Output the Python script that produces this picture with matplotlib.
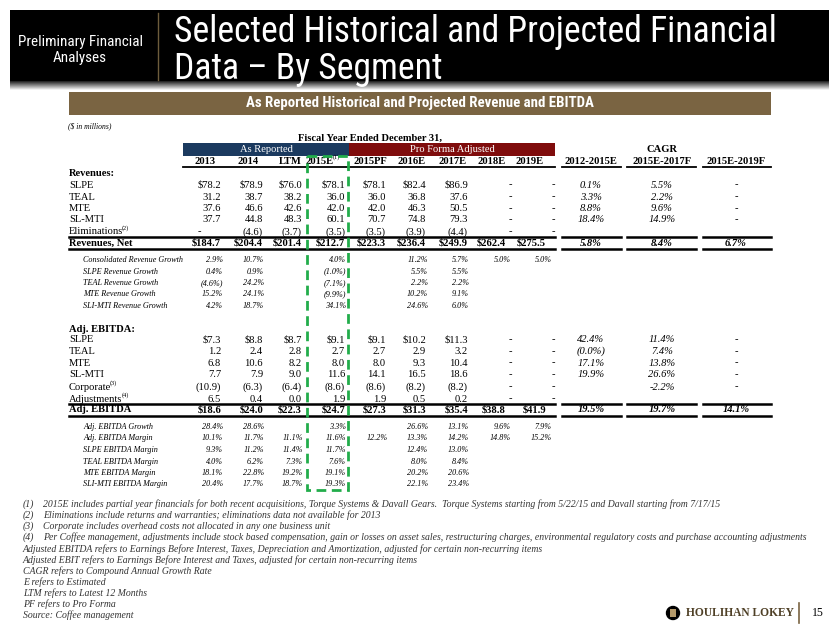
import math
import matplotlib
matplotlib.use('Agg')
import matplotlib.pyplot as plt
from matplotlib import font_manager
from matplotlib.patches import Rectangle, Circle

plt.rcParams['font.family'] = ['Liberation Serif', 'DejaVu Serif']

# pick a narrow sans for the banner if one is installed
_names = {f.name for f in font_manager.fontManager.ttflist}
SANS = [n for n in ['Roboto Condensed', 'Liberation Sans Narrow', 'Open Sans Condensed', 'Roboto']
        if n in _names] + ['DejaVu Sans']

# ---- data ----
periods = ['2013', '2014', 'LTM', '2015E', '2015PF', '2016E', '2017E', '2018E', '2019E']
cagr_periods = ['2012-2015E', '2015E-2017F', '2015E-2019F']

rev_labels = [('SLPE', ''), ('TEAL', ''), ('MTE', ''), ('SL-MTI', ''), ('Eliminations', '(2)')]
rev_slpe = [78.2, 78.9, 76.0, 78.1, 78.1, 82.4, 86.9, '-', '-']
rev_teal = [31.2, 38.7, 38.2, 36.0, 36.0, 36.8, 37.6, '-', '-']
rev_mte = [37.6, 46.6, 42.6, 42.0, 42.0, 46.3, 50.5, '-', '-']
rev_slmti = [37.7, 44.8, 48.3, 60.1, 70.7, 74.8, 79.3, '-', '-']
rev_elim = ['-', -4.6, -3.7, -3.5, -3.5, -3.9, -4.4, '-', '-']
rev_net = [184.7, 204.4, 201.4, 212.7, 223.3, 236.4, 249.9, 262.4, 275.5]

rev_cagr_slpe = [0.1, 5.5, '-']
rev_cagr_teal = [3.3, 2.2, '-']
rev_cagr_mte = [8.8, 9.6, '-']
rev_cagr_slmti = [18.4, 14.9, '-']
rev_cagr_elim = [None, None, None]
rev_cagr_net = [5.8, 8.4, 6.7]

growth_labels = ['Consolidated Revenue Growth', 'SLPE Revenue Growth', 'TEAL Revenue Growth',
                 'MTE Revenue Growth', 'SLI-MTI Revenue Growth']
growth_cons = [2.9, 10.7, None, 4.0, None, 11.2, 5.7, 5.0, 5.0]
growth_slpe = [0.4, 0.9, None, -1.0, None, 5.5, 5.5, None, None]
growth_teal = [-4.6, 24.2, None, -7.1, None, 2.2, 2.2, None, None]
growth_mte = [15.2, 24.1, None, -9.9, None, 10.2, 9.1, None, None]
growth_slmti = [4.2, 18.7, None, 34.1, None, 24.6, 6.0, None, None]

ebitda_labels = [('SLPE', ''), ('TEAL', ''), ('MTE', ''), ('SL-MTI', ''),
                 ('Corporate', '(3)'), ('Adjustments', '(4)')]
ebitda_slpe = [7.3, 8.8, 8.7, 9.1, 9.1, 10.2, 11.3, '-', '-']
ebitda_teal = [1.2, 2.4, 2.8, 2.7, 2.7, 2.9, 3.2, '-', '-']
ebitda_mte = [6.8, 10.6, 8.2, 8.0, 8.0, 9.3, 10.4, '-', '-']
ebitda_slmti = [7.7, 7.9, 9.0, 11.6, 14.1, 16.5, 18.6, '-', '-']
ebitda_corp = [-10.9, -6.3, -6.4, -8.6, -8.6, -8.2, -8.2, '-', '-']
ebitda_adj = [6.5, 0.4, 0.0, 1.9, 1.9, 0.5, 0.2, '-', '-']
ebitda_total = [18.6, 24.0, 22.3, 24.7, 27.3, 31.3, 35.4, 38.8, 41.9]

ebitda_cagr_slpe = [42.4, 11.4, '-']
ebitda_cagr_teal = [-0.0, 7.4, '-']
ebitda_cagr_mte = [17.1, 13.8, '-']
ebitda_cagr_slmti = [19.9, 26.6, '-']
ebitda_cagr_corp = [None, -2.2, '-']
ebitda_cagr_adj = [None, None, None]
ebitda_cagr_total = [19.5, 19.7, 14.1]

margin_labels = ['Adj. EBITDA Growth', 'Adj. EBITDA Margin', 'SLPE EBITDA Margin',
                 'TEAL EBITDA Margin', 'MTE EBITDA Margin', 'SLI-MTI EBITDA Margin']
ebitda_growth = [28.4, 28.6, None, 3.3, None, 26.6, 13.1, 9.6, 7.9]
ebitda_margin = [10.1, 11.7, 11.1, 11.6, 12.2, 13.3, 14.2, 14.8, 15.2]
margin_slpe = [9.3, 11.2, 11.4, 11.7, None, 12.4, 13.0, None, None]
margin_teal = [4.0, 6.2, 7.3, 7.6, None, 8.0, 8.4, None, None]
margin_mte = [18.1, 22.8, 19.2, 19.1, None, 20.2, 20.6, None, None]
margin_slmti = [20.4, 17.7, 18.7, 19.3, None, 22.1, 23.4, None, None]

footnotes = [
    ('(1)', '2015E includes partial year financials for both recent acquisitions, Torque Systems & Davall Gears.  '
            'Torque Systems starting from 5/22/15 and Davall starting from 7/17/15'),
    ('(2)', 'Eliminations include returns and warranties; eliminations data not available for 2013'),
    ('(3)', 'Corporate includes overhead costs not allocated in any one business unit'),
    ('(4)', 'Per Coffee management, adjustments include stock based compensation, gain or losses on asset sales, '
            'restructuring charges, environmental regulatory costs and purchase accounting adjustments'),
]
notes = [
    'Adjusted EBITDA refers to Earnings Before Interest, Taxes, Depreciation and Amortization, adjusted for certain non-recurring items',
    'Adjusted EBIT refers to Earnings Before Interest and Taxes, adjusted for certain non-recurring items',
    'CAGR refers to Compound Annual Growth Rate',
    'E refers to Estimated',
    'LTM refers to Latest 12 Months',
    'PF refers to Pro Forma',
    'Source: Coffee management',
]


def money(v, dollar=False):
    if v is None:
        return ''
    if v == '-':
        return '-'
    s = f"{abs(v):.1f}"
    if dollar:
        s = '$' + s
    return f"({s})" if v < 0 else s


def pct(v, paren=True):
    if v is None:
        return ''
    if v == '-':
        return '-'
    neg = math.copysign(1, v) < 0
    if neg and paren:
        return f"({abs(v):.1f}%)"
    if neg:
        return f"-{abs(v):.1f}%"
    return f"{v:.1f}%"


# ---- layout (pixel coordinates) ----
main_right = [221, 263, 302, 345, 386, 426, 468, 506, 546]
small_right = [223, 264, 303, 346, 388, 428, 469, 511, 552]
dash_center = [199, 241, 280, 323, 364, 404, 446, 510, 553]
head_center = [205, 248, 290, 320, 370, 412, 453, 492, 530]
cagr_center = [591, 662, 736]
cagr_span = [(562, 621), (627, 696), (703, 771)]
label_x = 69
sub_x = 83
FS = 7.6
FS_SMALL = 5.9

fig = plt.figure(figsize=(8.4, 6.35), dpi=100)
ax = fig.add_axes([0, 0, 1, 1])
ax.set_xlim(0, 840)
ax.set_ylim(635, 0)
ax.axis('off')
renderer = fig.canvas.get_renderer()


def fit_text(x, y, s, width, size, **kw):
    # scale the font so the string spans the width it has on the slide
    t = ax.text(x, y, s, fontsize=size, **kw)
    w = t.get_window_extent(renderer).width
    t.set_fontsize(size * width / w)
    return t


def sup_text(x, y, s, sup, size, ha='left', **kw):
    t = ax.text(x, y, s, fontsize=size, ha=ha, va='center', **kw)
    if sup:
        bb = t.get_window_extent(renderer)
        ax.text(bb.x1 - 1, y - 3.5, sup, fontsize=size * 0.6, ha='left', va='center')
    return t


# header band
ax.add_patch(Rectangle((10, 10), 819, 71, color='black', lw=0))
for i in range(9):
    ax.add_patch(Rectangle((10, 81 + i), 819, 1, color='black', alpha=0.85 - i * 0.1, lw=0))
ax.plot([158, 158], [13, 80], color='#6e5c3c', lw=1)
t = fit_text(80, 42, 'Preliminary Financial', 125, 9.5, color='white', family=SANS, ha='center', va='center')
ax.text(80, 58, 'Analyses', color='white', fontsize=t.get_fontsize(), family=SANS, ha='center', va='center')
t = fit_text(174, 32, 'Selected Historical and Projected Financial', 603, 22, color='white',
             family=SANS, ha='left', va='center')
ax.text(174, 69, 'Data \u2013 By Segment', color='white', fontsize=t.get_fontsize(), family=SANS,
        ha='left', va='center')

ax.add_patch(Rectangle((69, 92), 702, 23, color='#7a6442', lw=0))
fit_text(420, 103.5, 'As Reported Historical and Projected Revenue and EBITDA', 350, 8.8, color='white',
         fontweight='bold', family=SANS, ha='center', va='center')

# table header
ax.text(68, 126, '($ in millions)', fontsize=5.5, style='italic', ha='left', va='center')
ax.text(370, 138, 'Fiscal Year Ended December 31,', fontsize=FS, fontweight='bold', ha='center', va='center')
ax.add_patch(Rectangle((183, 143), 166, 12.5, color='#1b3a5f', lw=0))
ax.add_patch(Rectangle((349, 143), 206, 12.5, color='#7f0c0c', lw=0))
ax.text(266, 149.5, 'As Reported', color='white', fontsize=FS, ha='center', va='center')
ax.text(452, 149.5, 'Pro Forma Adjusted', color='white', fontsize=FS, ha='center', va='center')
ax.text(662, 149.5, 'CAGR', fontsize=FS, fontweight='bold', ha='center', va='center')

for x, p in zip(head_center, periods):
    sup_text(x, 161, p, '(1)' if p == '2015E' else '', FS, ha='center', fontweight='bold')
for x, p in zip(cagr_center, cagr_periods):
    ax.text(x, 161, p, fontsize=FS, fontweight='bold', ha='center', va='center')
ax.plot([183, 555], [167, 167], color='black', lw=1.3)
for a, b in cagr_span:
    ax.plot([a, b], [167, 167], color='black', lw=1.3)


def main_row(y, label, vals, cagr=None, dollar=False, bold=False, paren=True):
    w = 'bold' if bold else 'normal'
    sup_text(label_x, y, label[0], label[1], FS, fontweight=w)
    for i, v in enumerate(vals):
        s = money(v, dollar)
        if s == '-':
            ax.text(dash_center[i], y, s, fontsize=FS, ha='center', va='center')
        elif s:
            ax.text(main_right[i], y, s, fontsize=FS, fontweight=w, ha='right', va='center')
    if cagr:
        for x, v in zip(cagr_center, cagr):
            s = pct(v, paren)
            if s:
                ax.text(x, y, s, fontsize=FS, style='italic', fontweight=w, ha='center', va='center')


def small_row(y, label, vals):
    ax.text(sub_x, y, label, fontsize=FS_SMALL, style='italic', ha='left', va='center')
    for i, v in enumerate(vals):
        s = pct(v)
        if s:
            ax.text(small_right[i], y, s, fontsize=FS_SMALL, style='italic', ha='right', va='center')


def total_lines(y_top, y_bot):
    for yy in (y_top, y_bot):
        ax.plot([label_x, 555], [yy, yy], color='black', lw=1.8)
        for a, b in cagr_span:
            ax.plot([a, b], [yy, yy], color='black', lw=1.8)


# revenues block
ax.text(label_x, 173, 'Revenues:', fontsize=FS, fontweight='bold', ha='left', va='center')
rev_rows = [rev_slpe, rev_teal, rev_mte, rev_slmti, rev_elim]
rev_cagrs = [rev_cagr_slpe, rev_cagr_teal, rev_cagr_mte, rev_cagr_slmti, rev_cagr_elim]
for k, (y, lab, vals, cg) in enumerate(zip([185, 197, 208.5, 220, 232], rev_labels, rev_rows, rev_cagrs)):
    main_row(y, lab, vals, cg, dollar=(k == 0))
total_lines(237, 248.5)
main_row(243, ('Revenues, Net', ''), rev_net, rev_cagr_net, dollar=True, bold=True)

growth_rows = [growth_cons, growth_slpe, growth_teal, growth_mte, growth_slmti]
for y, lab, vals in zip([260, 271.5, 283, 294.5, 306], growth_labels, growth_rows):
    small_row(y, lab, vals)

# EBITDA block
ax.text(label_x, 329, 'Adj. EBITDA:', fontsize=FS, fontweight='bold', ha='left', va='center')
eb_rows = [ebitda_slpe, ebitda_teal, ebitda_mte, ebitda_slmti, ebitda_corp, ebitda_adj]
eb_cagrs = [ebitda_cagr_slpe, ebitda_cagr_teal, ebitda_cagr_mte, ebitda_cagr_slmti,
            ebitda_cagr_corp, ebitda_cagr_adj]
for k, (y, lab, vals, cg) in enumerate(zip([340, 351.5, 363, 374.5, 387, 399], ebitda_labels, eb_rows, eb_cagrs)):
    main_row(y, lab, vals, cg, dollar=(k == 0), paren=(k != 4))
total_lines(404, 416)
main_row(410, ('Adj. EBITDA', ''), ebitda_total, ebitda_cagr_total, dollar=True, bold=True)

margin_rows = [ebitda_growth, ebitda_margin, margin_slpe, margin_teal, margin_mte, margin_slmti]
for y, lab, vals in zip([427, 438.5, 450, 461.5, 473, 484], margin_labels, margin_rows):
    small_row(y, lab, vals)

# highlight of the 2015E column
ax.add_patch(Rectangle((307, 156), 41, 334, fill=False, edgecolor='#22ad4b', lw=2,
                       linestyle=(0, (3.5, 2)), zorder=5))

# footnotes
fy = 504
for tag, txt in footnotes:
    ax.text(23, fy, tag, fontsize=7, style='italic', color='#333333', ha='left', va='center')
    ax.text(43, fy, txt, fontsize=7, style='italic', color='#333333', ha='left', va='center')
    fy += 11.2
for txt in notes:
    ax.text(23, fy, txt, fontsize=7, style='italic', color='#333333', ha='left', va='center')
    fy += 11.0

# logo and page number
ax.add_patch(Circle((673, 613), 6.5, color='black'))
ax.add_patch(Rectangle((670, 609), 6, 8, color='#b59a6a', lw=0))
ax.text(686, 613, 'HOULIHAN LOKEY', fontsize=8.3, fontweight='bold', color='#4f4026', ha='left', va='center')
ax.plot([799, 799], [603, 623], color='#7a6442', lw=1.2)
ax.text(818, 613, '15', fontsize=8.5, ha='center', va='center')

fig.savefig('out.png', dpi=100)
